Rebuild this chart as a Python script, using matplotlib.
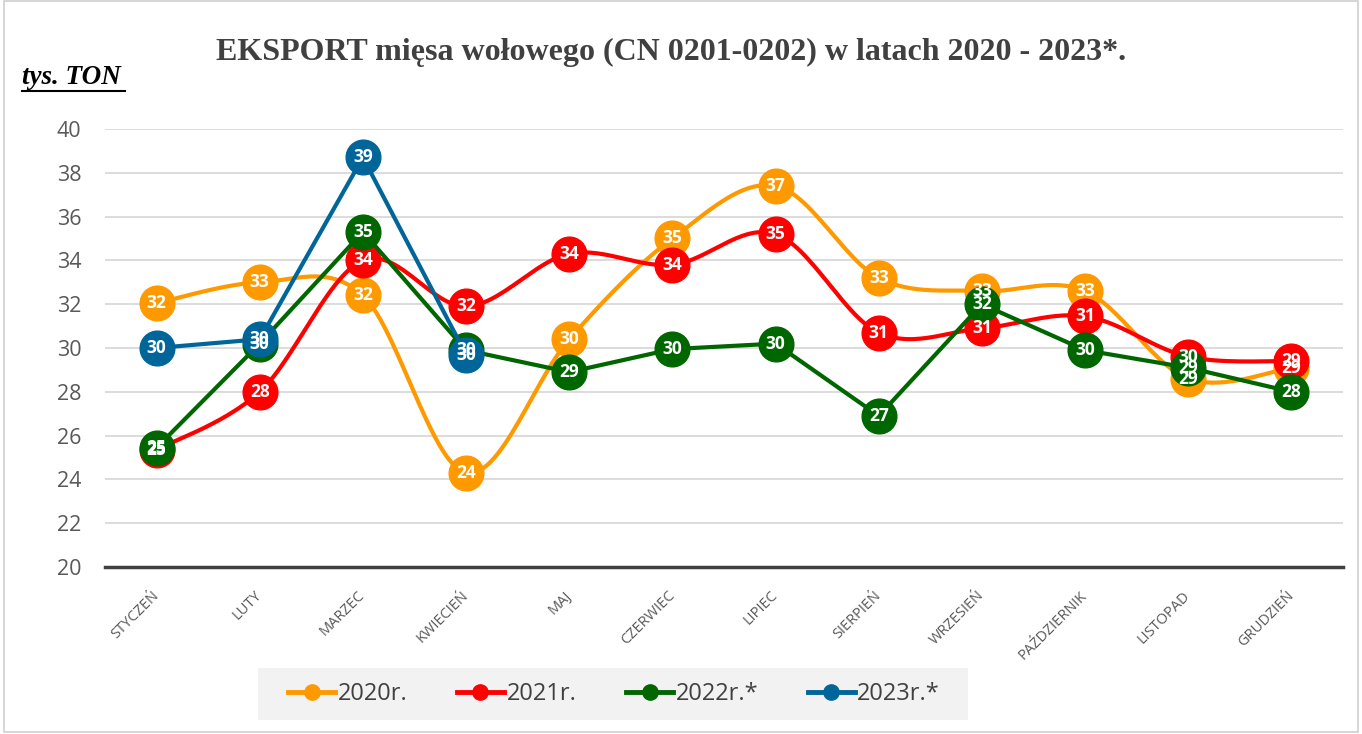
import numpy as np
import matplotlib
matplotlib.use("Agg")
import matplotlib.pyplot as plt
from matplotlib.patches import Rectangle

months = ["STYCZEŃ", "LUTY", "MARZEC", "KWIECIEŃ", "MAJ", "CZERWIEC", "LIPIEC",
          "SIERPIEŃ", "WRZESIEŃ", "PAŹDZIERNIK", "LISTOPAD", "GRUDZIEŃ"]
y2020 = [32.05, 33.0, 32.4, 24.3, 30.4, 35.0, 37.4, 33.2, 32.6, 32.6, 28.6, 29.1]
y2021 = [25.35, 28.0, 34.0, 31.9, 34.3, 33.8, 35.2, 30.7, 30.9, 31.45, 29.6, 29.4]
y2022 = [25.45, 30.2, 35.3, 29.9, 28.9, 29.95, 30.2, 26.9, 32.0, 29.9, 29.1, 28.0]
y2023 = [30.0, 30.4, 38.7, 29.7]
labels = ["2020r.", "2021r.", "2022r.*", "2023r.*"]
colors = ["#FF9900", "#FF0000", "#006600", "#006699"]
smooth = [True, True, False, False]
series = [y2020, y2021, y2022, y2023]

plt.rcParams['font.family'] = ['Open Sans', 'DejaVu Sans']

fig = plt.figure(figsize=(13.62, 7.34), dpi=100)
ax = fig.add_axes([105/1362, 1-567/734, 1238/1362, (567-129)/734])
fig.patches.append(Rectangle((4/1362, 2/734), 1354/1362, 731/734, transform=fig.transFigure,
                             fill=False, edgecolor="#d0d0d0", lw=1.2))
fig.patches.append(Rectangle((258/1362, 1-720/734), 710/1362, 52/734, transform=fig.transFigure,
                             facecolor="#f2f2f2", edgecolor="none", zorder=0))


def catmull(xs, ys, n=30):
    xs = np.asarray(xs, float); ys = np.asarray(ys, float)
    px = np.concatenate([[xs[0]], xs, [xs[-1]]])
    py = np.concatenate([[ys[0]], ys, [ys[-1]]])
    ox, oy = [], []
    t = np.linspace(0, 1, n)
    for i in range(1, len(px) - 2):
        p0, p1, p2, p3 = (np.array([px[j], py[j]]) for j in (i-1, i, i+1, i+2))
        b0 = p1
        b1 = p1 + (p2 - p0) / 6
        b2 = p2 - (p3 - p1) / 6
        b3 = p2
        pts = ((1-t)**3)[:, None]*b0 + (3*(1-t)**2*t)[:, None]*b1 + (3*(1-t)*t**2)[:, None]*b2 + (t**3)[:, None]*b3
        ox.extend(pts[:, 0]); oy.extend(pts[:, 1])
    return ox, oy

handles = []
for k, (ys, c, sm, lab) in enumerate(zip(series, colors, smooth, labels)):
    xs = np.arange(len(ys))
    if sm:
        cx, cy = catmull(xs, ys)
    else:
        cx, cy = xs, ys
    ax.plot(cx, cy, color=c, lw=3, zorder=2 + k, solid_capstyle='round')
    ax.plot(xs, ys, 'o', color=c, ms=25, zorder=2 + k, mec=c)
    h, = ax.plot([], [], color=c, lw=3.5, marker='o', ms=11, label=lab)
    handles.append(h)

for k, (ys, c) in enumerate(zip(series, colors)):
    for x, y in enumerate(ys):
        ax.text(x, y, f"{round(y):d}", color="white", fontsize=12.5, fontweight="bold",
                ha="center", va="center", zorder=10)

ax.set_xlim(-0.5, 11.5)
ax.set_ylim(20, 40)
ax.set_yticks(range(20, 41, 2))
ax.set_xticks(range(12))
ax.set_xticklabels(months, rotation=45, ha="right", va="center", rotation_mode="anchor",
                   fontsize=10.5, color="#595959")
ax.tick_params(axis='y', labelsize=15.5, labelcolor="#595959", length=0, pad=17)
ax.tick_params(axis='x', length=0, pad=19)
ax.grid(axis='y', color="#d9d9d9", lw=1.3, zorder=0)
ax.set_axisbelow(True)
for s in ["top", "right", "left"]:
    ax.spines[s].set_visible(False)
ax.spines["bottom"].set_color("#404040")
ax.spines["bottom"].set_linewidth(2.5)
ax.spines["bottom"].set_zorder(1)

fig.text(671/1362, 1-52/734, "EKSPORT mięsa wołowego (CN 0201-0202) w latach 2020 - 2023*.",
         family=["Liberation Serif"], fontweight="bold", fontsize=23, color="#404040",
         ha="center", va="center")
fig.text(22/1362, 1-77/734, "tys. TON", family=["Liberation Serif"], fontweight="bold",
         style="italic", fontsize=19.5, color="#000000", ha="left", va="center")
fig.lines.append(plt.Line2D([22/1362, 125/1362], [1-91/734, 1-91/734], transform=fig.transFigure,
                            color="black", lw=1.5))

leg = fig.legend(handles=handles, loc="center", bbox_to_anchor=(614/1362, 1-694/734),
                 ncol=4, frameon=False, fontsize=17, handlelength=2.0, handletextpad=0.1,
                 columnspacing=2.1, borderpad=0.2, borderaxespad=0)
for t in leg.get_texts():
    t.set_color("#404040")

fig.savefig("out.png", dpi=100)
